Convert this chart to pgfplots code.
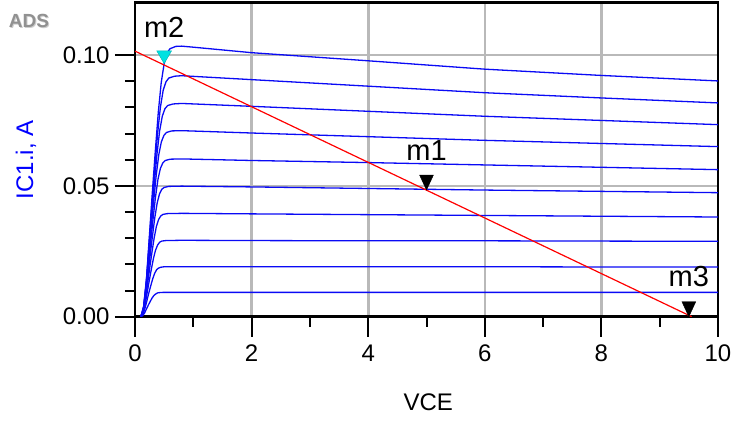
\documentclass[border=0pt]{standalone}
\usepackage{fontspec}
\setmainfont{Liberation Sans}
\usepackage{pgfplots}
\pgfplotsset{compat=1.18}
\definecolor{gridgray}{RGB}{185,185,185}
\definecolor{mcyan}{RGB}{0,225,225}
\definecolor{adsgray}{RGB}{145,145,145}
\definecolor{curveblue}{RGB}{10,10,245}
\newcommand{\bigfont}{\fontsize{24}{28}\selectfont}
\newcommand{\mfont}{\fontsize{29}{34}\selectfont}
\begin{document}
\begin{tikzpicture}
\begin{axis}[
  scale only axis, width=583pt, height=314pt,
  xmin=0, xmax=10, ymin=0, ymax=0.12,
  xtick={0,2,4,6,8,10}, ytick={0,0.05,0.10},
  minor x tick num=1, minor y tick num=4,
  tick align=outside, xtick pos=bottom, ytick pos=left,
  major tick length=20pt, minor tick length=10pt,
  tick style={black, line width=2pt},
  axis line style={black, line width=2.8pt},
  grid=major, major grid style={gridgray, line width=2.6pt},
  /pgf/number format/assume math mode=true,
  scaled y ticks=false,
  yticklabel style={/pgf/number format/fixed, /pgf/number format/fixed zerofill, /pgf/number format/precision=2, xshift=-2pt},
  xticklabel style={yshift=-5pt},
  ticklabel style={font=\bigfont},
  xlabel={VCE}, ylabel={IC1.i, A},
  xlabel style={font=\bigfont, at={(axis description cs:0.503,-0.273)}, anchor=center},
  ylabel style={font=\bigfont, text=blue, at={(axis description cs:-0.187,0.5)}, anchor=center},
]
% IV curves
\addplot[curveblue, line width=1.3pt] coordinates {(0.10,0) (0.15,0.0041) (0.20,0.0154) (0.25,0.0319) (0.30,0.0484) (0.35,0.0638) (0.40,0.0782) (0.45,0.0895) (0.50,0.0967) (0.55,0.1008) (0.60,0.1024) (0.70,0.1033) (0.80,0.1034) (1.0,0.1030) (2,0.1009) (4,0.0978) (6,0.0946) (8,0.0922) (10,0.0901)};
\addplot[curveblue, line width=1.3pt] coordinates {(0.100,0) (0.148,0.0037) (0.196,0.0138) (0.244,0.0286) (0.292,0.0433) (0.340,0.0571) (0.388,0.0700) (0.436,0.0801) (0.484,0.0866) (0.532,0.0898) (0.580,0.0912) (0.676,0.0919) (0.8,0.0921) (2,0.0906) (4,0.0881) (6,0.0856) (8,0.0836) (10,0.0817)};
\addplot[curveblue, line width=1.3pt] coordinates {(0.100,0) (0.146,0.0033) (0.192,0.0122) (0.238,0.0253) (0.284,0.0383) (0.330,0.0505) (0.376,0.0619) (0.422,0.0709) (0.468,0.0766) (0.514,0.0795) (0.560,0.0807) (0.652,0.0813) (0.8,0.0815) (2,0.0804) (4,0.0785) (6,0.0766) (8,0.0750) (10,0.0734)};
\addplot[curveblue, line width=1.3pt] coordinates {(0.100,0) (0.144,0.0028) (0.188,0.0107) (0.232,0.0220) (0.276,0.0334) (0.320,0.0441) (0.364,0.0540) (0.408,0.0619) (0.452,0.0668) (0.496,0.0693) (0.540,0.0704) (0.628,0.0710) (0.8,0.0711) (2,0.0702) (4,0.0688) (6,0.0674) (8,0.0662) (10,0.0650)};
\addplot[curveblue, line width=1.3pt] coordinates {(0.100,0) (0.142,0.0024) (0.184,0.0090) (0.226,0.0187) (0.268,0.0283) (0.310,0.0374) (0.352,0.0458) (0.394,0.0525) (0.436,0.0567) (0.478,0.0588) (0.520,0.0597) (0.604,0.0602) (0.8,0.0603) (2,0.0597) (4,0.0589) (6,0.0580) (8,0.0571) (10,0.0562)};
\addplot[curveblue, line width=1.3pt] coordinates {(0.100,0) (0.140,0.0020) (0.180,0.0075) (0.220,0.0155) (0.260,0.0235) (0.300,0.0309) (0.340,0.0379) (0.380,0.0434) (0.420,0.0469) (0.460,0.0487) (0.500,0.0494) (0.580,0.0498) (0.8,0.0499) (2,0.0496) (4,0.0490) (6,0.0484) (8,0.0479) (10,0.0474)};
\addplot[curveblue, line width=1.3pt] coordinates {(0.100,0) (0.138,0.0016) (0.176,0.0059) (0.214,0.0122) (0.252,0.0186) (0.290,0.0245) (0.328,0.0300) (0.366,0.0344) (0.404,0.0371) (0.442,0.0385) (0.480,0.0391) (0.556,0.0394) (0.8,0.0395) (2,0.0393) (4,0.0390) (6,0.0387) (8,0.0384) (10,0.0381)};
\addplot[curveblue, line width=1.3pt] coordinates {(0.100,0) (0.136,0.0012) (0.172,0.0044) (0.208,0.0091) (0.244,0.0137) (0.280,0.0181) (0.316,0.0222) (0.352,0.0254) (0.388,0.0274) (0.424,0.0285) (0.460,0.0289) (0.532,0.0291) (0.8,0.0292) (2,0.0291) (4,0.0290) (6,0.0290) (8,0.0289) (10,0.0288)};
\addplot[curveblue, line width=1.3pt] coordinates {(0.100,0) (0.134,0.0008) (0.168,0.0029) (0.202,0.0059) (0.236,0.0090) (0.270,0.0118) (0.304,0.0145) (0.338,0.0166) (0.372,0.0180) (0.406,0.0186) (0.440,0.0189) (0.508,0.0191) (0.8,0.0191) (2,0.0191) (4,0.0191) (6,0.0191) (8,0.0190) (10,0.0190)};
\addplot[curveblue, line width=1.3pt] coordinates {(0.100,0) (0.132,0.0004) (0.164,0.0014) (0.196,0.0029) (0.228,0.0044) (0.260,0.0058) (0.292,0.0071) (0.324,0.0081) (0.356,0.0087) (0.388,0.0091) (0.420,0.0092) (0.484,0.0093) (0.8,0.0093) (2,0.0093) (4,0.0093) (6,0.0093) (8,0.0093) (10,0.0093)};
% load line
\addplot[red, line width=1.2pt] coordinates {(0,0.1015) (9.55,0)};
% markers
\addplot[only marks, mark=triangle*, mark size=8pt,
  mark options={draw=black, fill=black, line width=0.4pt, yshift=10pt, rotate=180, yscale=1.25},
  nodes near coords, point meta=explicit symbolic,
  every node near coord/.append style={font=\mfont, text=black, anchor=center, yshift=30pt}]
  table[meta=label] {
x y label
5 0.0484 m1
9.5 0 m3
};
\addplot[only marks, mark=triangle*, mark size=8.5pt,
  mark options={draw=mcyan!80!black, fill=mcyan, line width=0.4pt, yshift=8.5pt, rotate=180},
  nodes near coords, point meta=explicit symbolic,
  every node near coord/.append style={font=\mfont, text=black, anchor=center, yshift=28pt}]
  table[meta=label] {
x y label
0.5 0.0967 m2
};
\end{axis}
\node[font=\bfseries\fontsize{19}{22}\selectfont, text=adsgray!45] at ([shift={(-105pt,294.7pt)}]current axis.south west) {ADS};
\node[font=\bfseries\fontsize{19}{22}\selectfont, text=adsgray] at ([shift={(-106pt,295.7pt)}]current axis.south west) {ADS};
\pgfresetboundingbox
\path[use as bounding box] ([shift={(-135pt,-104.3pt)}]current axis.south west) rectangle ([shift={(13pt,2.7pt)}]current axis.north east);
\end{tikzpicture}
\end{document}
